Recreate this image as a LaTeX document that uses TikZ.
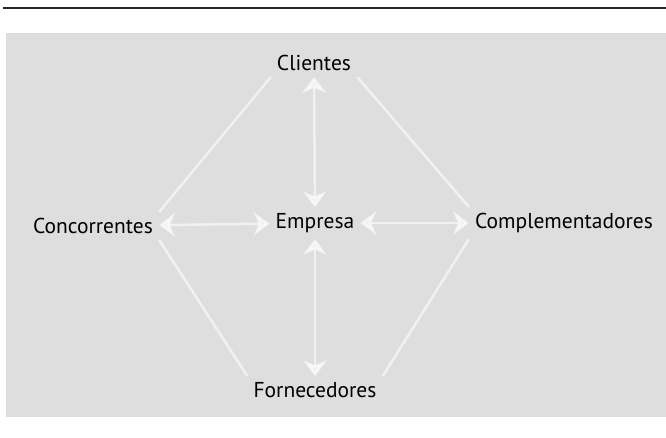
\documentclass[tikz,border=0pt]{standalone}
\usepackage{fontspec}
\setmainfont{PT Sans}
\usetikzlibrary{arrows.meta}
\definecolor{stipple}{gray}{0.87}
\tikzset{
  lbl/.style={font=\fontsize{21.5}{26}\selectfont, text=black, inner sep=6pt},
  link/.style={draw=white, line width=2.5pt, opacity=0.6},
  dlink/.style={link, {Stealth[length=16pt,width=24pt]}-{Stealth[length=16pt,width=24pt]}},
}
\begin{document}
\begin{tikzpicture}[x=1pt,y=-1pt]
\useasboundingbox (0,0) rectangle (666,437);
\fill[stipple] (6,33) rectangle (666,417);
\draw[line width=1.4pt, black!85] (3,8) -- (666,8);
\node[lbl] (cli) at (314,63) {Clientes};
\node[lbl] (con) at (93,226) {Concorrentes};
\node[lbl] (emp) at (315,223) {Empresa};
\node[lbl] (com) at (564,223) {Complementadores};
\node[lbl] (for) at (315,390) {Fornecedores};
\draw[dlink] (cli) -- (emp);
\draw[dlink] (emp) -- (for);
\draw[dlink] (con) -- (emp);
\draw[dlink] (emp) -- (com);
\draw[link] (cli.south west) -- (con.north east);
\draw[link] (cli.south east) -- (com.north west);
\draw[link] (for.north west) -- (con.south east);
\draw[link] (for.north east) -- (com.south west);
\end{tikzpicture}
\end{document}
